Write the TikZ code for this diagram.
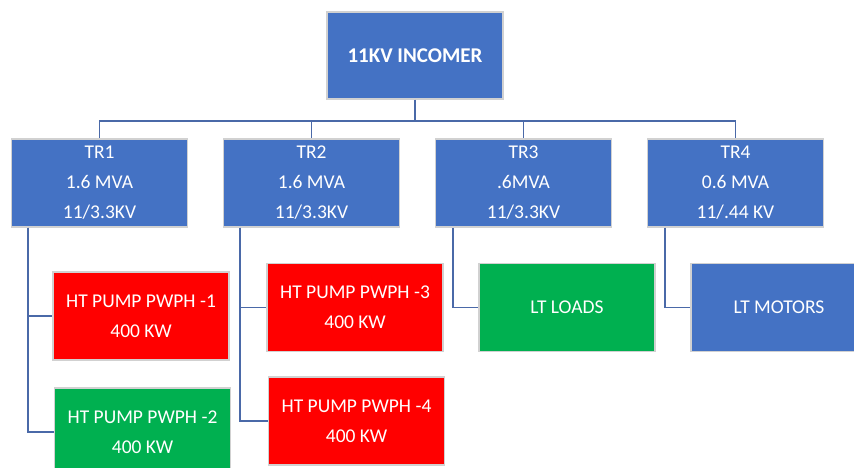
\documentclass[tikz,border=0pt]{standalone}
\usepackage{fontspec}
\setmainfont{Carlito}
\usepackage{xcolor}
\definecolor{boxblue}{HTML}{4472C4}
\definecolor{boxred}{HTML}{FF0000}
\definecolor{boxgreen}{HTML}{00B050}
\definecolor{linkblue}{HTML}{4A69A8}

\begin{document}
\begin{tikzpicture}[x=1pt, y=-1pt,
    block/.style={rectangle, draw=black!18, line width=1.2pt, text=white,
        minimum width=176pt, minimum height=88pt, align=center,
        font=\fontsize{19.5}{30}\selectfont},
    link/.style={draw=linkblue, line width=1.8pt}]
        \useasboundingbox (0,0) rectangle (854,468);

        % Incomer at the top
        \node[block, fill=boxblue, minimum height=87pt, font=\fontsize{21}{30}\selectfont\bfseries]
            (inc) at (415, 55.5) {11KV INCOMER};

        % Transformers
        \node[block, fill=boxblue] (tr1) at (99.5, 183)  {TR1\\1.6 MVA\\11/3.3KV};
        \node[block, fill=boxblue] (tr2) at (311.5, 183) {TR2\\1.6 MVA\\11/3.3KV};
        \node[block, fill=boxblue] (tr3) at (523.5, 183) {TR3\\.6MVA\\11/3.3KV};
        \node[block, fill=boxblue] (tr4) at (735.5, 183) {TR4\\0.6 MVA\\11/.44 KV};

        % Loads below the transformers
        \node[block, fill=boxred]   (ht1) at (141, 316)   {HT PUMP PWPH -1\\400 KW};
        \node[block, fill=boxgreen] (ht2) at (142.5, 432) {HT PUMP PWPH -2\\400 KW};
        \node[block, fill=boxred]   (ht3) at (355, 307.5) {HT PUMP PWPH -3\\400 KW};
        \node[block, fill=boxred]   (ht4) at (356.5, 421) {HT PUMP PWPH -4\\400 KW};
        \node[block, fill=boxgreen] (ltl) at (567, 307.5) {LT LOADS};
        \node[block, fill=boxblue]  (ltm) at (779, 307.5) {LT MOTORS};

        % Bus from the incomer to the transformers
        \coordinate (bus) at (415, 121);
        \draw[link] (inc.south) -- (bus);
        \draw[link] (bus) -| (tr1.north);
        \draw[link] (bus) -| (tr2.north);
        \draw[link] (bus) -| (tr3.north);
        \draw[link] (bus) -| (tr4.north);

        % Elbow links to the loads
        \draw[link] ([xshift=17pt]tr1.south west) |- (ht1.west);
        \draw[link] ([xshift=17pt]tr1.south west) |- (ht2.west);
        \draw[link] ([xshift=17pt]tr2.south west) |- (ht3.west);
        \draw[link] ([xshift=17pt]tr2.south west) |- (ht4.west);
        \draw[link] ([xshift=18pt]tr3.south west) |- (ltl.west);
        \draw[link] ([xshift=18pt]tr4.south west) |- (ltm.west);
\end{tikzpicture}
\end{document}
